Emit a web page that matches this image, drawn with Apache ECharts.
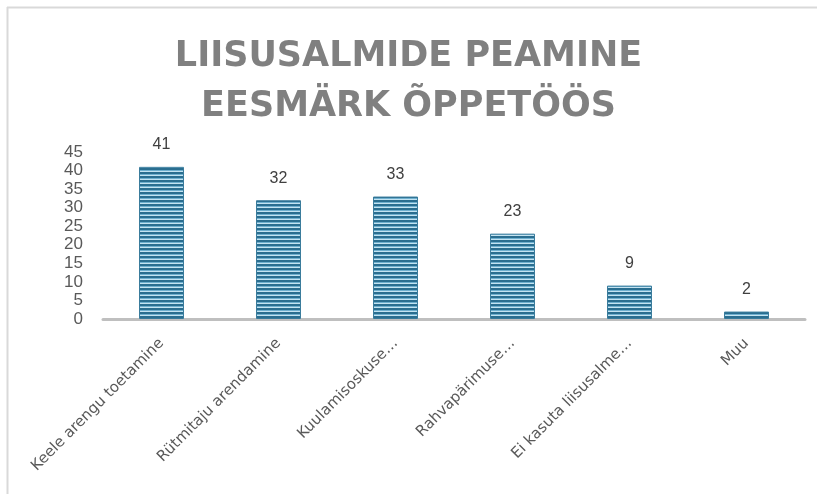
<!DOCTYPE html>
<html>
<head>
<meta charset="utf-8">
<script src="https://cdn.jsdelivr.net/npm/echarts@6/dist/echarts.min.js"></script>
<style>
    html, body { margin: 0; padding: 0; background: #fff; }
    #chart1 { width: 817px; height: 494px; }
</style>
</head>
<body>
<div id="chart1"></div>
<script>
var categories = ['Keele arengu toetamine', 'Rütmitaju arendamine', 'Kuulamisoskuse…', 'Rahvapärimuse…', 'Ei kasuta liisusalme…', 'Muu'];
var values = [41, 32, 33, 23, 9, 2];
var yTicks = [0, 5, 10, 15, 20, 25, 30, 35, 40, 45];

// triipudega täide tulpadele
function stripePattern() {
    var c = document.createElement('canvas');
    c.width = 4;
    c.height = 4;
    var ctx = c.getContext('2d');
    ctx.fillStyle = '#2a6e90';
    ctx.fillRect(0, 0, 4, 2);
    ctx.fillStyle = '#6fb0cf';
    ctx.fillRect(0, 2, 4, 1);
    ctx.fillStyle = '#c4e3f1';
    ctx.fillRect(0, 3, 4, 1);
    return c;
}

var myChart = echarts.init(document.getElementById('chart1'));
var option = {
    animation: false,
    backgroundColor: '#fff',
    title: {
        text: 'LIISUSALMIDE PEAMINE\nEESMÄRK ÕPPETÖÖS',
        left: 'center',
        top: 27,
        textStyle: {
            fontFamily: 'DejaVu Sans',
            fontWeight: 'bold',
            fontSize: 35,
            lineHeight: 50,
            color: '#808080'
        }
    },
    graphic: [
        { type: 'line', shape: { x1: 7, y1: 7.5, x2: 817, y2: 7.5 }, style: { stroke: '#d9d9d9', lineWidth: 2 } },
        { type: 'line', shape: { x1: 7.5, y1: 7, x2: 7.5, y2: 494 }, style: { stroke: '#d9d9d9', lineWidth: 2 } }
    ],
    grid: {
        left: 103,
        right: 12,
        top: 152,
        bottom: 175
    },
    xAxis: {
        type: 'category',
        data: categories,
        axisLine: { lineStyle: { color: '#bfbfbf', width: 3 } },
        axisTick: { show: false },
        axisLabel: {
            rotate: 45,
            interval: 0,
            margin: 22,
            fontFamily: 'DejaVu Sans',
            fontSize: 15,
            color: '#595959'
        }
    },
    yAxis: {
        type: 'value',
        min: yTicks[0],
        max: yTicks[yTicks.length - 1],
        interval: 5,
        splitLine: { show: false },
        axisLine: { show: false },
        axisTick: { show: false },
        axisLabel: {
            margin: 20,
            fontFamily: 'Liberation Sans',
            fontSize: 17,
            color: '#595959'
        }
    },
    series: [{
        type: 'bar',
        data: values,
        barWidth: 45,
        itemStyle: {
            color: { image: stripePattern(), repeat: 'repeat' },
            borderColor: '#3a7c9c',
            borderWidth: 1
        },
        label: {
            show: true,
            position: 'top',
            distance: 14,
            fontFamily: 'Liberation Sans',
            fontSize: 16,
            color: '#404040'
        }
    }]
};
myChart.setOption(option);
</script>
</body>
</html>
